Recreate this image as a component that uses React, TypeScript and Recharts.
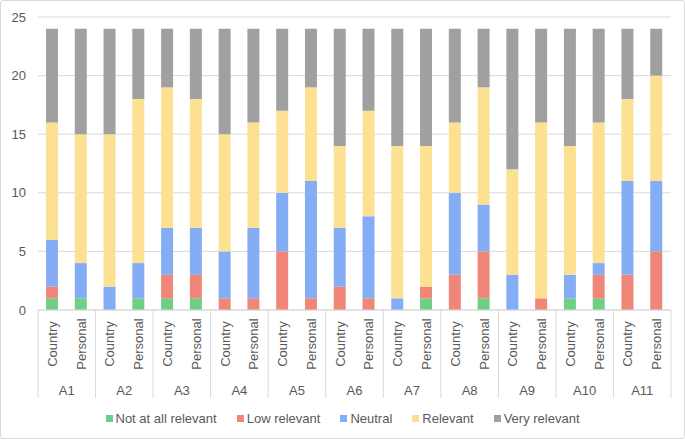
import React from "react";
import { BarChart, Bar, XAxis, YAxis, CartesianGrid, Legend } from "recharts";

const groups = ["A1", "A2", "A3", "A4", "A5", "A6", "A7", "A8", "A9", "A10", "A11"];
const subs = ["Country", "Personal"];

const notAtAll = [1, 1, 0, 1, 1, 1, 0, 0, 0, 0, 0, 0, 0, 1, 0, 1, 0, 0, 1, 1, 0, 0];
const lowRel = [1, 0, 0, 0, 2, 2, 1, 1, 5, 1, 2, 1, 0, 1, 3, 4, 0, 1, 0, 2, 3, 5];
const neutral = [4, 3, 2, 3, 4, 4, 4, 6, 5, 10, 5, 7, 1, 0, 7, 4, 3, 0, 2, 1, 8, 6];
const relevant = [10, 11, 13, 14, 12, 11, 10, 9, 7, 8, 7, 9, 13, 12, 6, 10, 9, 15, 11, 12, 7, 9];
const veryRel = [8, 9, 9, 6, 5, 6, 9, 8, 7, 5, 10, 7, 10, 10, 8, 5, 12, 8, 10, 8, 6, 4];
const yTicks = [0, 5, 10, 15, 20, 25];

const series = [
  { key: "notAtAll", name: "Not at all relevant", color: "#70cf84", values: notAtAll },
  { key: "low", name: "Low relevant", color: "#f08678", values: lowRel },
  { key: "neutral", name: "Neutral", color: "#84adf5", values: neutral },
  { key: "relevant", name: "Relevant", color: "#fde193", values: relevant },
  { key: "very", name: "Very relevant", color: "#a0a0a0", values: veryRel },
];

const data = groups.flatMap((g, gi) =>
  subs.map((s, si) => {
    const i = gi * 2 + si;
    const row: any = { id: `${g}-${s}`, group: g, sub: s };
    series.forEach((se) => (row[se.key] = se.values[i]));
    return row;
  })
);

const W = 685;
const H = 441;
const ML = 0;
const MR = 14;
const YW = 38;
const SLOT = (W - ML - MR - YW) / data.length;
const FONT = "'Liberation Sans', Arial, sans-serif";
const TXT = "#595959";
const LINE = "#d9d9d9";

const CatTick = (props: any) => {
  const { x, y, payload } = props;
  const i = payload.index;
  const row = data[i];
  const ly = y + 34;
  return (
    <g>
      <text
        x={x}
        y={ly}
        dy="0.35em"
        transform={`rotate(-90, ${x}, ${ly})`}
        textAnchor="middle"
        fill={TXT}
        fontSize={13}
        fontFamily={FONT}
      >
        {row.sub}
      </text>
      {i % 2 === 0 && (
        <line x1={x - SLOT / 2} x2={x - SLOT / 2} y1={y} y2={y + 88} stroke={LINE} strokeWidth={1} />
      )}
      {i === data.length - 1 && (
        <line x1={x + SLOT / 2} x2={x + SLOT / 2} y1={y} y2={y + 88} stroke={LINE} strokeWidth={1} />
      )}
      {i % 2 === 1 && (
        <text
          x={x - SLOT / 2}
          y={y + 80}
          dy="0.35em"
          textAnchor="middle"
          fill={TXT}
          fontSize={13}
          fontFamily={FONT}
        >
          {row.group}
        </text>
      )}
    </g>
  );
};

const LegendContent = () => (
  <div
    style={{
      display: "flex",
      justifyContent: "center",
      alignItems: "center",
      height: 26,
      fontFamily: FONT,
      fontSize: 13,
      color: TXT,
      gap: 20,
      paddingLeft: 14,
    }}
  >
    {series.map((s) => (
      <div key={s.key} style={{ display: "flex", alignItems: "center" }}>
        <span style={{ display: "inline-block", width: 7, height: 7, background: s.color, marginRight: 3 }} />
        <span>{s.name}</span>
      </div>
    ))}
  </div>
);

export default function App() {
  return (
    <div style={{ position: "absolute", left: 0, top: 0, width: W, height: H, background: "#fff" }}>
      <BarChart
        width={W}
        height={H}
        data={data}
        margin={{ top: 17, right: MR, left: ML, bottom: 10 }}
        barSize={12}
      >
        <CartesianGrid vertical={false} stroke={LINE} strokeWidth={1} />
        <YAxis
          width={YW}
          domain={[0, 25]}
          ticks={yTicks}
          axisLine={false}
          tickLine={false}
          tickMargin={6}
          tick={{ fill: TXT, fontSize: 13, fontFamily: FONT }}
        />
        <XAxis
          dataKey="id"
          interval={0}
          height={95}
          axisLine={{ stroke: LINE }}
          tickLine={false}
          tickSize={0}
          tickMargin={0}
          tick={<CatTick />}
        />
        <Legend verticalAlign="bottom" height={26} content={<LegendContent />} />
        {series.map((s) => (
          <Bar key={s.key} dataKey={s.key} name={s.name} stackId="a" fill={s.color} isAnimationActive={false} />
        ))}
      </BarChart>
      <div
        style={{
          position: "absolute",
          left: 0,
          top: 0,
          width: W - 2,
          height: H - 4,
          border: `1px solid ${LINE}`,
          borderRadius: 3,
          pointerEvents: "none",
        }}
      />
    </div>
  );
}
